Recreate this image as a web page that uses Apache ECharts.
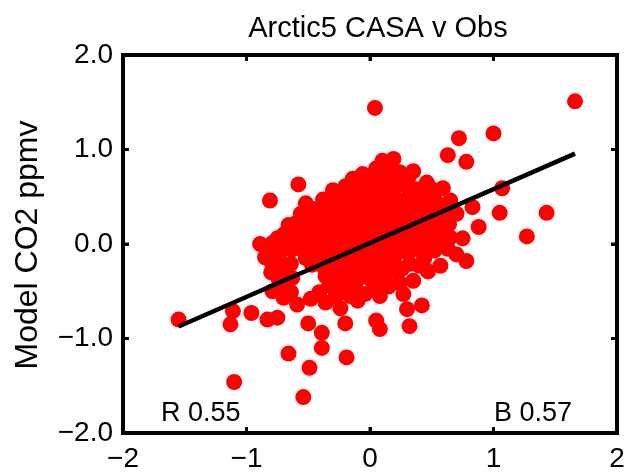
<!DOCTYPE html>
<html>
<head>
<meta charset="utf-8">
<title>Arctic5 CASA v Obs</title>
<script src="https://cdn.jsdelivr.net/npm/echarts@6/dist/echarts.min.js"></script>
<style>
  html, body { margin: 0; padding: 0; background: #ffffff; }
  #chart { width: 635px; height: 473px; }
</style>
</head>
<body>
<div id="chart"></div>
<script>
// Observed (x) vs modelled (y) CO2 anomalies, ppmv, as [obs, model] pairs.
const coreCluster = [
  [0.10,0.88],[0.19,0.90],[0.05,0.80],[0.14,0.82],
  [-0.06,0.74],[0.03,0.74],[0.24,0.76],[0.35,0.77],[0.15,0.71],
  [-0.20,0.61],[-0.09,0.64],[0.02,0.60],[0.11,0.66],[0.27,0.63],[0.46,0.65],[0.38,0.58],[0.59,0.59],
  [-0.38,0.47],[-0.27,0.52],[-0.15,0.49],[-0.04,0.53],[0.07,0.50],[0.19,0.55],[0.30,0.48],[0.40,0.49],[0.52,0.52],[0.65,0.46],
  [-0.47,0.35],[-0.38,0.40],[-0.27,0.38],[-0.17,0.33],[-0.06,0.40],[0.05,0.36],[0.15,0.41],[0.24,0.34],[0.34,0.38],[0.46,0.36],[0.57,0.32],[0.70,0.32],
  [-0.60,0.22],[-0.52,0.27],[-0.41,0.23],[-0.30,0.26],[-0.21,0.21],[-0.10,0.27],[0.01,0.22],[0.11,0.28],[0.21,0.20],[0.32,0.25],[0.43,0.22],[0.53,0.27],[0.64,0.21],
  [-0.70,0.10],[-0.62,0.16],[-0.55,0.06],[-0.44,0.12],[-0.33,0.08],[-0.24,0.14],[-0.13,0.09],[-0.03,0.13],[0.08,0.07],[0.18,0.12],[0.29,0.09],[0.39,0.14],[0.50,0.08],[0.60,0.12],
  [-0.89,0.00],[-0.79,0.01],[-0.68,-0.03],[-0.58,0.02],[-0.47,-0.04],[-0.37,0.01],[-0.27,-0.02],[-0.16,0.03],[-0.06,-0.03],[0.05,0.01],[0.15,-0.04],[0.26,0.02],[0.36,-0.02],[0.47,0.03],[0.58,-0.01],
  [-0.85,-0.14],[-0.74,-0.18],[-0.52,-0.15],[-0.42,-0.13],[-0.32,-0.19],[-0.22,-0.12],[-0.11,-0.16],[-0.01,-0.12],[0.10,-0.18],[0.20,-0.13],[0.32,-0.21],[0.44,-0.15],
  [-0.80,-0.30],[-0.69,-0.27],[-0.36,-0.34],[-0.26,-0.28],[-0.15,-0.31],[-0.05,-0.27],[0.08,-0.31],[0.18,-0.28],
  [-0.79,-0.50],[-0.70,-0.44],[-0.33,-0.44],[-0.22,-0.49],[-0.12,-0.43],[0.04,-0.47],[0.15,-0.45],
  [-0.70,-0.57],[-0.59,-0.64],[-0.48,-0.58],[-0.36,-0.62],[-0.24,-0.68],[-0.10,-0.60]
];

// Second layer of the dense centre, sitting between the rows above.
const coreFill = [
  [-0.14,0.69],[-0.02,0.68],[0.06,0.71],[0.20,0.69],[0.31,0.70],
  [-0.30,0.57],[-0.14,0.57],[0.08,0.58],[0.21,0.61],[0.32,0.56],[0.50,0.58],
  [-0.52,0.43],[-0.33,0.44],[-0.22,0.45],[-0.10,0.45],[0.01,0.45],[0.12,0.46],[0.23,0.44],[0.35,0.44],[0.47,0.43],[0.58,0.41],
  [-0.56,0.32],[-0.42,0.30],[-0.33,0.32],[-0.22,0.28],[-0.12,0.33],[0.00,0.30],[0.10,0.33],[0.19,0.28],[0.29,0.31],[0.40,0.29],[0.50,0.31],[0.62,0.27],
  [-0.66,0.20],[-0.49,0.18],[-0.38,0.17],[-0.28,0.20],[-0.17,0.16],[-0.06,0.19],[0.04,0.16],[0.14,0.18],[0.25,0.15],[0.36,0.19],[0.47,0.16],[0.56,0.19],
  [-0.75,0.06],[-0.64,0.07],[-0.51,0.10],[-0.40,0.05],[-0.29,0.06],[-0.19,0.08],[-0.09,0.05],[0.02,0.06],[0.12,0.03],[0.23,0.06],[0.33,0.05],[0.43,0.07],[0.55,0.05],[0.65,0.07],
  [-0.84,-0.07],[-0.73,-0.09],[-0.63,-0.06],[-0.53,-0.08],[-0.42,-0.07],[-0.32,-0.09],[-0.21,-0.06],[-0.11,-0.08],[0.00,-0.07],[0.10,-0.09],[0.21,-0.07],[0.31,-0.10],[0.42,-0.08],[0.52,-0.07],[0.63,-0.05],
  [-0.79,-0.23],[-0.64,-0.21],[-0.47,-0.22],[-0.37,-0.25],[-0.27,-0.22],[-0.16,-0.24],[-0.06,-0.21],[0.04,-0.23],[0.15,-0.23],[0.26,-0.26],[0.40,-0.23],
  [-0.74,-0.37],[-0.63,-0.36],[-0.29,-0.38],[-0.19,-0.39],[-0.09,-0.36],[0.01,-0.38],[0.12,-0.37],
  [-0.64,-0.51],[-0.41,-0.51],[-0.28,-0.56],[-0.16,-0.55],[-0.04,-0.53],[0.08,-0.55]
];

const lowerScatter = [
  [-1.55,-0.80],[-1.11,-0.71],[-1.13,-0.85],[-1.10,-1.46],[-0.96,-0.73],[-0.83,-0.80],
  [-0.75,-0.78],[-0.66,-1.16],[-0.54,-1.62],[-0.49,-1.31],[-0.50,-0.84],[-0.39,-0.94],
  [-0.39,-1.10],[-0.19,-1.20],[-0.20,-0.84],[0.05,-0.81],[0.08,-0.90],[0.32,-0.87],
  [0.24,-0.41],[0.35,-0.39],[0.47,-0.29],[0.57,-0.23],[0.78,-0.18],[0.70,-0.11],
  [0.27,-0.53],[0.30,-0.69],[0.42,-0.65]
];

const upperScatter = [
  [0.04,1.44],[-0.58,0.63],[-0.81,0.46],[-0.62,0.16],[-0.46,0.37],
  [1.66,1.51],[0.72,1.12],[1.00,1.17],[0.63,0.94],[0.78,0.87],
  [1.07,0.59],[1.05,0.33],[1.43,0.33],[1.27,0.08],[0.88,0.18],
  [0.83,0.39],[0.75,0.06]
];

// Least-squares fit and statistics printed on the plot.
const fitSlope = 0.57;
const fitIntercept = 0.01;
const statR = 'R 0.55';
const statB = 'B 0.57';

// Axis ticks and their printed labels.
const xTicks = [-2, -1, 0, 1, 2];
const xTickLabels = ['\u22122', '\u22121', '0', '1', '2'];
const yTicks = [-2, -1, 0, 1, 2];
const yTickLabels = ['\u22122.0', '\u22121.0', '0.0', '1.0', '2.0'];

const allPoints = coreCluster.concat(coreFill, lowerScatter, upperScatter);
const xs = allPoints.map(p => p[0]);
const xMin = Math.min.apply(null, xs);
const xMax = Math.max.apply(null, xs);
const fitLine = [[xMin, fitIntercept + fitSlope * xMin], [xMax, fitIntercept + fitSlope * xMax]];

const FONT = 'Liberation Sans, Arial, Helvetica, sans-serif';
const FRAME_W = 4;
const TICK_LEN = 6;
const TICK_W = 3;

function labelFor(ticks, labels) {
  return function (v) {
    const i = ticks.indexOf(Math.round(v * 1000) / 1000);
    return i >= 0 ? labels[i] : '';
  };
}

function textStyle(text, size, align) {
  return { text: text, fill: '#000000', fontSize: size, fontFamily: FONT,
           align: align, verticalAlign: 'middle' };
}

function sideAxis(position, labelOpt) {
  return {
    type: 'value', position: position, min: -2, max: 2, interval: 1,
    axisLine: { show: true, onZero: false, lineStyle: { color: '#000000', width: FRAME_W } },
    axisTick: { show: true, inside: true, length: TICK_LEN, lineStyle: { color: '#000000', width: TICK_W } },
    splitLine: { show: false },
    axisLabel: labelOpt
  };
}

const chart = echarts.init(document.getElementById('chart'), null, { renderer: 'canvas' });
chart.setOption({
  animation: false,
  grid: { left: 123, right: 18, top: 55, bottom: 40 },
  xAxis: [
    sideAxis('bottom', { margin: 12, color: '#000000', fontSize: 28, fontFamily: FONT,
                         formatter: labelFor(xTicks, xTickLabels) }),
    sideAxis('top', { show: false })
  ],
  yAxis: [
    sideAxis('left', { margin: 10, color: '#000000', fontSize: 28, fontFamily: FONT,
                       formatter: labelFor(yTicks, yTickLabels) }),
    sideAxis('right', { show: false })
  ],
  series: [
    {
      type: 'scatter', xAxisIndex: 0, yAxisIndex: 0,
      data: allPoints, symbol: 'circle', symbolSize: 16,
      itemStyle: { color: '#ff0000', opacity: 1 }, z: 2
    },
    {
      type: 'line', xAxisIndex: 0, yAxisIndex: 0,
      data: fitLine, symbol: 'none',
      lineStyle: { color: '#000000', width: 4.5 }, z: 3
    }
  ]
});

// Box and inward tick marks, placed through the axes' own value-to-pixel mapping.
const toPx = v => chart.convertToPixel({ gridIndex: 0 }, v);
const lowLeft = toPx([-2, -2]);
const upRight = toPx([2, 2]);
const boxLeft = lowLeft[0], boxBottom = lowLeft[1], boxRight = upRight[0], boxTop = upRight[1];

const frameParts = [
  { type: 'rect', z: 100,
    shape: { x: boxLeft, y: boxTop, width: boxRight - boxLeft, height: boxBottom - boxTop },
    style: { fill: null, stroke: '#000000', lineWidth: FRAME_W } }
];
xTicks.forEach(t => {
  const px = toPx([t, 0])[0];
  frameParts.push({ type: 'line', z: 100, shape: { x1: px, y1: boxBottom, x2: px, y2: boxBottom - TICK_LEN },
                    style: { stroke: '#000000', lineWidth: TICK_W } });
  frameParts.push({ type: 'line', z: 100, shape: { x1: px, y1: boxTop, x2: px, y2: boxTop + TICK_LEN },
                    style: { stroke: '#000000', lineWidth: TICK_W } });
});
yTicks.forEach(t => {
  const py = toPx([0, t])[1];
  frameParts.push({ type: 'line', z: 100, shape: { x1: boxLeft, y1: py, x2: boxLeft + TICK_LEN, y2: py },
                    style: { stroke: '#000000', lineWidth: TICK_W } });
  frameParts.push({ type: 'line', z: 100, shape: { x1: boxRight, y1: py, x2: boxRight - TICK_LEN, y2: py },
                    style: { stroke: '#000000', lineWidth: TICK_W } });
});

chart.setOption({
  graphic: frameParts.concat([
    { type: 'text', x: 378, y: 29, style: textStyle('Arctic5 CASA v Obs', 29, 'center') },
    { type: 'text', x: 28, y: 245, rotation: Math.PI / 2, style: textStyle('Model CO2 ppmv', 32, 'center') },
    { type: 'text', x: 161, y: 414, style: textStyle(statR, 27, 'left') },
    { type: 'text', x: 494, y: 414, style: textStyle(statB, 27, 'left') }
  ])
});
</script>
</body>
</html>
